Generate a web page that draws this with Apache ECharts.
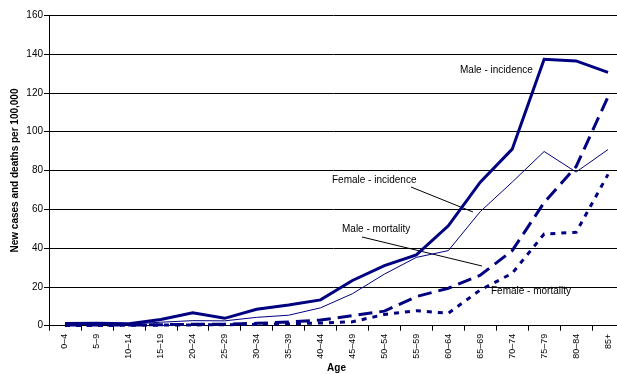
<!DOCTYPE html>
<html>
<head>
<meta charset="utf-8">
<script src="https://cdn.jsdelivr.net/npm/echarts@6/dist/echarts.min.js"></script>
<style>
  html, body { margin: 0; padding: 0; background: #fff; }
  #chart { width: 617px; height: 374px; }
</style>
</head>
<body>
<div id="chart"></div>
<script>
// age groups on the x axis
const ages = ['0–4', '5–9', '10–14', '15–19', '20–24', '25–29', '30–34', '35–39', '40–44',
  '45–49', '50–54', '55–59', '60–64', '65–69', '70–74', '75–79', '80–84', '85+']

// rates per 100,000
const maleIncidence   = [1.1, 1.2, 1.0, 3.2, 6.7, 3.8, 8.5, 10.7, 13.3, 23.3, 31, 36.5, 51.5, 74, 91, 137.3, 136.5, 130.6]
const femaleIncidence = [0.6, 0.7, 0.8, 1.8, 2.6, 2.5, 4.3, 5.4, 9.2, 16.5, 26.6, 35.2, 38.7, 58.8, 74, 89.8, 79.2, 90.8]
const maleMortality   = [0.3, 0.3, 0.3, 0.5, 0.7, 0.8, 1.2, 1.9, 2.9, 5.2, 7.5, 15, 19.3, 26, 38.7, 63.5, 82, 118]
const femaleMortality = [0.1, 0.1, 0.2, 0.3, 0.4, 0.5, 0.7, 1.0, 1.4, 2.0, 5.8, 7.7, 6.4, 18.4, 27, 47.3, 48.1, 78]

const yTicks = { min: 0, max: 160, interval: 20 }

const navy = '#000080'
const font = 'Liberation Sans, Arial, sans-serif'

const chart = echarts.init(document.getElementById('chart'))

function lineSeries(name, data, width, dash) {
  return {
    name: name,
    type: 'line',
    data: data,
    symbol: 'none',
    animation: false,
    lineStyle: { color: navy, width: width, type: dash || 'solid', cap: 'butt', join: 'miter' }
  }
}

const option = {
  animation: false,
  // plot runs a little past the right edge, as in the original
  grid: { left: 49, right: -7, top: 15.3, bottom: 48.3, containLabel: false, outerBoundsMode: 'none' },
  xAxis: {
    type: 'category',
    data: ages,
    boundaryGap: true,
    name: 'Age',
    nameLocation: 'middle',
    nameGap: 38,
    nameMoveOverlap: false,
    nameTextStyle: { fontFamily: font, fontSize: 10, fontWeight: 'bold', color: '#000' },
    axisLine: { lineStyle: { color: '#000', width: 1 } },
    axisTick: { show: true, alignWithLabel: false, length: 5, lineStyle: { color: '#000' } },
    axisLabel: { rotate: 90, margin: 8, fontFamily: font, fontSize: 9, color: '#000', interval: 0 },
    splitLine: { show: false }
  },
  yAxis: {
    type: 'value',
    min: yTicks.min,
    max: yTicks.max,
    interval: yTicks.interval,
    name: 'New cases and deaths per 100,000',
    nameLocation: 'middle',
    nameRotate: 90,
    nameGap: 29,
    nameMoveOverlap: false,
    nameTextStyle: { fontFamily: font, fontSize: 10, fontWeight: 'bold', color: '#000' },
    axisLine: { show: true, lineStyle: { color: '#000', width: 1 } },
    axisTick: { show: true, length: 5, lineStyle: { color: '#000' } },
    axisLabel: { margin: 6, fontFamily: font, fontSize: 10, color: '#000' },
    splitLine: { show: true, lineStyle: { color: '#000', width: 1 } }
  },
  series: [
    lineSeries('Male - incidence', maleIncidence, 3),
    lineSeries('Female - incidence', femaleIncidence, 1),
    lineSeries('Male - mortality', maleMortality, 3, [14, 7]),
    lineSeries('Female - mortality', femaleMortality, 3, [5, 6])
  ],
  // annotation text and leader lines
  graphic: [
    { type: 'text', left: 460, top: 65, style: { text: 'Male - incidence', font: '10px ' + font, fill: '#000' } },
    { type: 'text', left: 332, top: 175, style: { text: 'Female - incidence', font: '10px ' + font, fill: '#000' } },
    { type: 'line', shape: { x1: 411, y1: 187, x2: 473, y2: 212 }, style: { stroke: '#000', lineWidth: 1 } },
    { type: 'text', left: 342, top: 224, style: { text: 'Male - mortality', font: '10px ' + font, fill: '#000' } },
    { type: 'line', shape: { x1: 362, y1: 237, x2: 482, y2: 266 }, style: { stroke: '#000', lineWidth: 1 } },
    { type: 'text', left: 491, top: 286, style: { text: 'Female - mortality', font: '10px ' + font, fill: '#000' } }
  ]
}

chart.setOption(option)
</script>
</body>
</html>
